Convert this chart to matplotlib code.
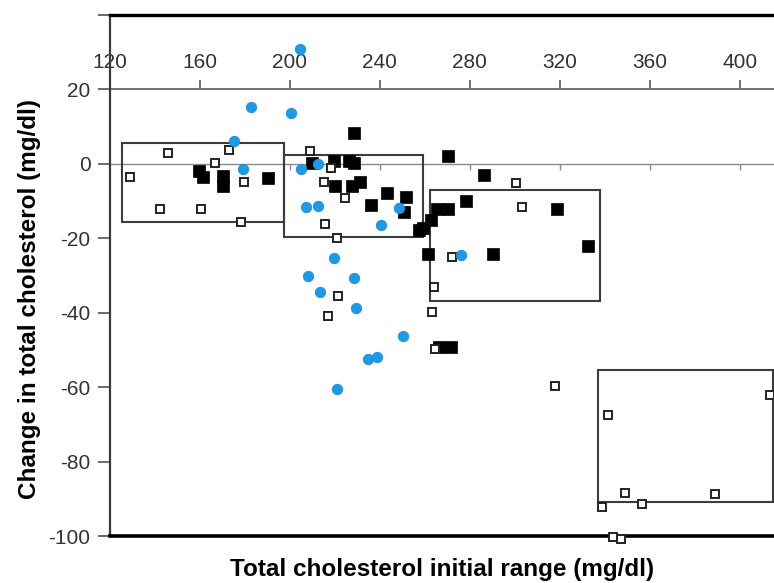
import matplotlib
matplotlib.use("Agg")
import matplotlib.pyplot as plt
from matplotlib.patches import Rectangle

plt.rcParams['font.family'] = ['Liberation Sans', 'DejaVu Sans']

# ---- data ----
# open squares (x = initial total cholesterol, y = change)
open_x = [145.8, 173.1, 166.7, 128.9, 179.8, 142.1, 160.3, 178.2,
          208.8, 218.2, 215.2, 224.7, 215.5, 221.0,
          221.6, 217.0, 264.1, 263.4, 264.6,
          300.5, 303.4, 272.3,
          318.1, 341.3, 413.6, 349.1, 356.8, 389.1, 339.0, 343.5, 347.2]
open_y = [3.0, 3.7, 0.3, -3.6, -4.8, -12.2, -12.2, -15.7,
          3.5, -1.0, -4.8, -9.3, -16.2, -20.0,
          -35.5, -40.9, -33.2, -39.8, -49.7,
          -5.2, -11.5, -25.1,
          -59.7, -67.6, -62.1, -88.5, -91.3, -88.8, -92.3, -100.2, -100.9]

# filled squares
filled_x = [159.5, 161.5, 170.4, 170.4, 190.1,
            228.5, 210.0, 219.6, 226.3, 228.5, 220.1, 227.8, 231.2,
            235.9, 243.1, 251.5, 250.8,
            270.5, 270.1, 265.6, 262.6, 259.0, 257.4,
            286.4, 278.5, 318.7, 332.6, 261.4, 290.5, 266.3, 271.5]
filled_y = [-2.0, -3.5, -3.2, -6.0, -3.9,
            8.2, 0.1, 0.8, 0.8, 0.1, -6.0, -6.0, -4.8,
            -11.1, -7.9, -8.8, -12.9,
            2.0, -12.0, -12.0, -15.1, -17.3, -17.8,
            -3.0, -10.0, -12.0, -22.0, -24.1, -24.1, -49.2, -49.2]

# blue circles
blue_x = [204.5, 182.6, 200.4, 175.1, 179.3, 205.1, 212.7, 207.0, 212.5,
          248.5, 240.4, 219.6, 208.1, 228.3, 213.3, 229.6, 250.1, 234.9,
          238.9, 221.1, 276.3]
blue_y = [30.8, 15.2, 13.6, 6.2, -1.5, -1.5, 0.0, -11.7, -11.3,
          -11.8, -16.3, -25.4, -30.2, -30.6, -34.5, -38.8, -46.2, -52.5,
          -52.0, -60.5, -24.5]

# range boxes: (x_left, x_right, y_bottom, y_top)
box_x0 = [125.2, 197.2, 262.2, 337.1]
box_x1 = [197.2, 259.4, 337.8, 414.8]
box_y0 = [-15.6, -19.6, -36.9, -90.8]
box_y1 = [5.6, 2.4, -7.0, -55.4]

x_ticks = [120, 160, 200, 240, 280, 320, 360, 400]
y_ticks = [40, 20, 0, -20, -40, -60, -80, -100]
y_ticklabels = ['', '20', '0', '-20', '-40', '-60', '-80', '-100']

# ---- figure ----
fig = plt.figure(figsize=(7.74, 5.83), dpi=100)
ax = fig.add_axes([110 / 774, 1 - 536 / 583, 1 - 110 / 774, (536 - 15) / 583])
ax.set_xlim(120, 415.3)
ax.set_ylim(-100, 40)

# spines
ax.spines['right'].set_visible(False)
ax.spines['top'].set_color('black')
ax.spines['top'].set_linewidth(2.4)
ax.spines['bottom'].set_color('black')
ax.spines['bottom'].set_linewidth(2.6)
ax.spines['left'].set_color('#3a3a3a')
ax.spines['left'].set_linewidth(1.6)

ax.set_xticks([])
ax.set_yticks(y_ticks)
ax.set_yticklabels(y_ticklabels)
ax.tick_params(axis='y', direction='out', length=8.6, width=1.4, color='#6a6a6a',
               labelsize=15, labelcolor='#333333', pad=5.5)

# x axis drawn at y = 20
sec = ax.secondary_xaxis((20 - (-100)) / 140)
sec.set_xticks(x_ticks)
sec.tick_params(axis='x', direction='out', length=6.5, width=1.4, color='#707070',
                labelsize=15, labelcolor='#333333', pad=6)
for s in sec.spines.values():
    s.set_color('#707070')
    s.set_linewidth(1.4)

# zero line with short downward ticks
zer = ax.secondary_xaxis((0 - (-100)) / 140)
zer.set_xticks(x_ticks[1:])
zer.tick_params(axis='x', direction='in', length=4, width=1.0, color='#8a8a8a',
                labeltop=False, labelbottom=False)
for s in zer.spines.values():
    s.set_color('#8a8a8a')
    s.set_linewidth(1.0)

# boxes
for x0, x1, y0, y1 in zip(box_x0, box_x1, box_y0, box_y1):
    ax.add_patch(Rectangle((x0, y0), x1 - x0, y1 - y0, fill=False,
                           edgecolor='#3c3c3c', linewidth=1.5, zorder=2))

ax.plot(filled_x, filled_y, linestyle='none', marker='s', markersize=9.2,
        markerfacecolor='black', markeredgecolor='black', markeredgewidth=0.5,
        zorder=3, clip_on=False)
ax.plot(open_x, open_y, linestyle='none', marker='s', markersize=5.5,
        markerfacecolor='white', markeredgecolor='#222222', markeredgewidth=1.4,
        zorder=4, clip_on=False)
ax.plot(blue_x, blue_y, linestyle='none', marker='o', markersize=7.5,
        markerfacecolor='#1e9be8', markeredgecolor='#1a8fd8', markeredgewidth=0.6,
        zorder=5, clip_on=False)

ax.set_xlabel('Total cholesterol initial range (mg/dl)', fontsize=17.5,
              fontweight='bold', labelpad=16)
ax.set_ylabel('Change in total cholesterol (mg/dl)', fontsize=17.5,
              fontweight='bold')
ax.yaxis.set_label_coords(-0.104, 0.455)

fig.savefig('out.png', dpi=100)
